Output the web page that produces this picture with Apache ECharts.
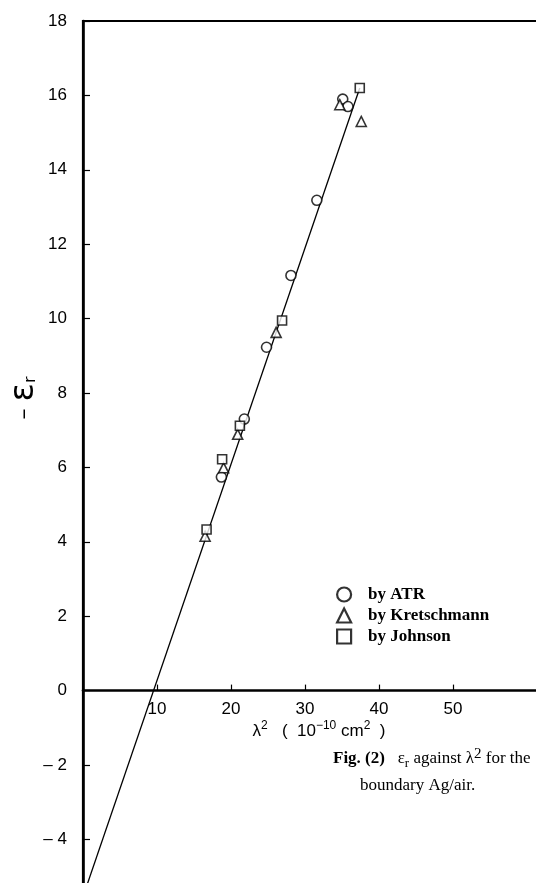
<!DOCTYPE html>
<html>
<head>
<meta charset="utf-8">
<script src="https://cdn.jsdelivr.net/npm/echarts@6/dist/echarts.min.js"></script>
<style>
html,body{margin:0;padding:0;background:#fff;}
#chart{width:536px;height:883px;}
</style>
</head>
<body>
<div id="chart"></div>
<script>
// λ² (10^-10 cm²) vs −εr
var atrPoints = [[35.1,15.9],[35.8,15.7],[31.6,13.18],[28.1,11.16],[24.8,9.23],[21.8,7.30],[18.7,5.74]];
var kretschmannPoints = [[34.7,15.75],[37.6,15.3],[26.1,9.63],[20.9,6.89],[19.0,5.99],[16.5,4.15]];
var johnsonPoints = [[37.4,16.2],[26.9,9.95],[21.2,7.12],[18.8,6.22],[16.7,4.33]];
var fitLine = [[0.5,-5.25],[37.4,16.2]];
var xTickValues = [10,20,30,40,50];
var seriesNames = ['by ATR','by Kretschmann','by Johnson'];

var chart = echarts.init(document.getElementById('chart'), null, {renderer:'canvas'});
var axisFont = 'Liberation Sans';
var markStyle = {color:'#fff', borderColor:'#000', borderWidth:1.6};
var gridTop = 21, unitY = 37.2, yMin = -6, yMax = 18;
var gridH = unitY * (yMax - yMin);
var zeroOffset = -(gridH - unitY * yMax);

chart.setOption({
  animation:false,
  backgroundColor:'#fff',
  grid:{left:83, top:gridTop, width:7.4*62, height:gridH, show:true, borderColor:'#000', borderWidth:2.2, backgroundColor:'transparent',
        containLabel:false, outerBoundsMode:'none'},
  xAxis:{
    type:'value', min:0, max:62, position:'bottom', offset:zeroOffset,
    axisLine:{onZero:false, lineStyle:{color:'#000', width:2.6}},
    axisTick:{show:true, inside:true, length:6, customValues:xTickValues, lineStyle:{color:'#000', width:1.2}},
    axisLabel:{show:true, customValues:xTickValues, margin:10, color:'#000', fontFamily:axisFont, fontSize:17},
    splitLine:{show:false}
  },
  yAxis:{
    type:'value', min:yMin, max:yMax, interval:2,
    axisLine:{show:true, lineStyle:{color:'#000', width:2.6}},
    axisTick:{show:true, inside:true, length:7, lineStyle:{color:'#000', width:1.2}},
    axisLabel:{margin:16, color:'#000', fontFamily:axisFont, fontSize:17,
      formatter:function(v){ if(v<=-6) return ''; return v<0 ? '\u2013 '+Math.abs(v) : String(v); }},
    splitLine:{show:false}
  },
  legend:{
    orient:'vertical', left:336, top:586, itemWidth:14, itemHeight:14, itemGap:4, padding:0,
    itemStyle:{color:'#fff', borderColor:'#000', borderWidth:2.2},
    textStyle:{fontFamily:'Liberation Serif', fontWeight:'bold', fontSize:17, color:'#000', padding:[0,0,0,12]},
    data:[
      {name:seriesNames[0], icon:'circle'},
      {name:seriesNames[1], icon:'triangle'},
      {name:seriesNames[2], icon:'rect'}
    ]
  },
  series:[
    {type:'line', data:fitLine, symbol:'none', lineStyle:{color:'#000', width:1.3}, silent:true, z:1},
    {type:'scatter', name:seriesNames[0], data:atrPoints, symbol:'circle', symbolSize:10, itemStyle:markStyle, z:3},
    {type:'scatter', name:seriesNames[1], data:kretschmannPoints, symbol:'triangle', symbolSize:10, itemStyle:markStyle, z:3},
    {type:'scatter', name:seriesNames[2], data:johnsonPoints, symbol:'rect', symbolSize:9, itemStyle:markStyle, z:3}
  ],
  graphic:[
    {type:'text', x:24, y:398, rotation:Math.PI/2,
     style:{text:'\u2013 {e|\u03B5}{s|r}', fill:'#000', fontFamily:'DejaVu Sans', fontSize:22, align:'center', verticalAlign:'middle',
       rich:{e:{fontSize:34, fontFamily:'DejaVu Sans'}, s:{fontSize:16, padding:[14,0,0,0], fontFamily:'DejaVu Sans'}}}},
    {type:'text', x:319, y:731,
     style:{text:'\u03BB{sup|2}   (  10{sup|\u221210} cm{sup|2}  )', fill:'#000', fontFamily:axisFont, fontSize:17, align:'center', verticalAlign:'middle',
       rich:{sup:{fontSize:12, padding:[0,0,10,0], fontFamily:axisFont}}}},
    {type:'text', x:333, y:759,
     style:{text:'{b|Fig. (2)}   \u03B5{sub|r} against \u03BB{sup|2} for the', fill:'#000', fontFamily:'Liberation Serif', fontSize:17, align:'left', verticalAlign:'middle',
       rich:{b:{fontWeight:'bold', fontSize:17, fontFamily:'Liberation Serif'}, sub:{fontSize:13, padding:[10,0,0,0], fontFamily:'Liberation Serif'}, sup:{fontSize:15, padding:[0,0,10,0], fontFamily:'Liberation Serif'}}}},
    {type:'text', x:360, y:786,
     style:{text:'boundary Ag/air.', fill:'#000', fontFamily:'Liberation Serif', fontSize:17, align:'left', verticalAlign:'middle'}}
  ]
});
</script>
</body>
</html>
